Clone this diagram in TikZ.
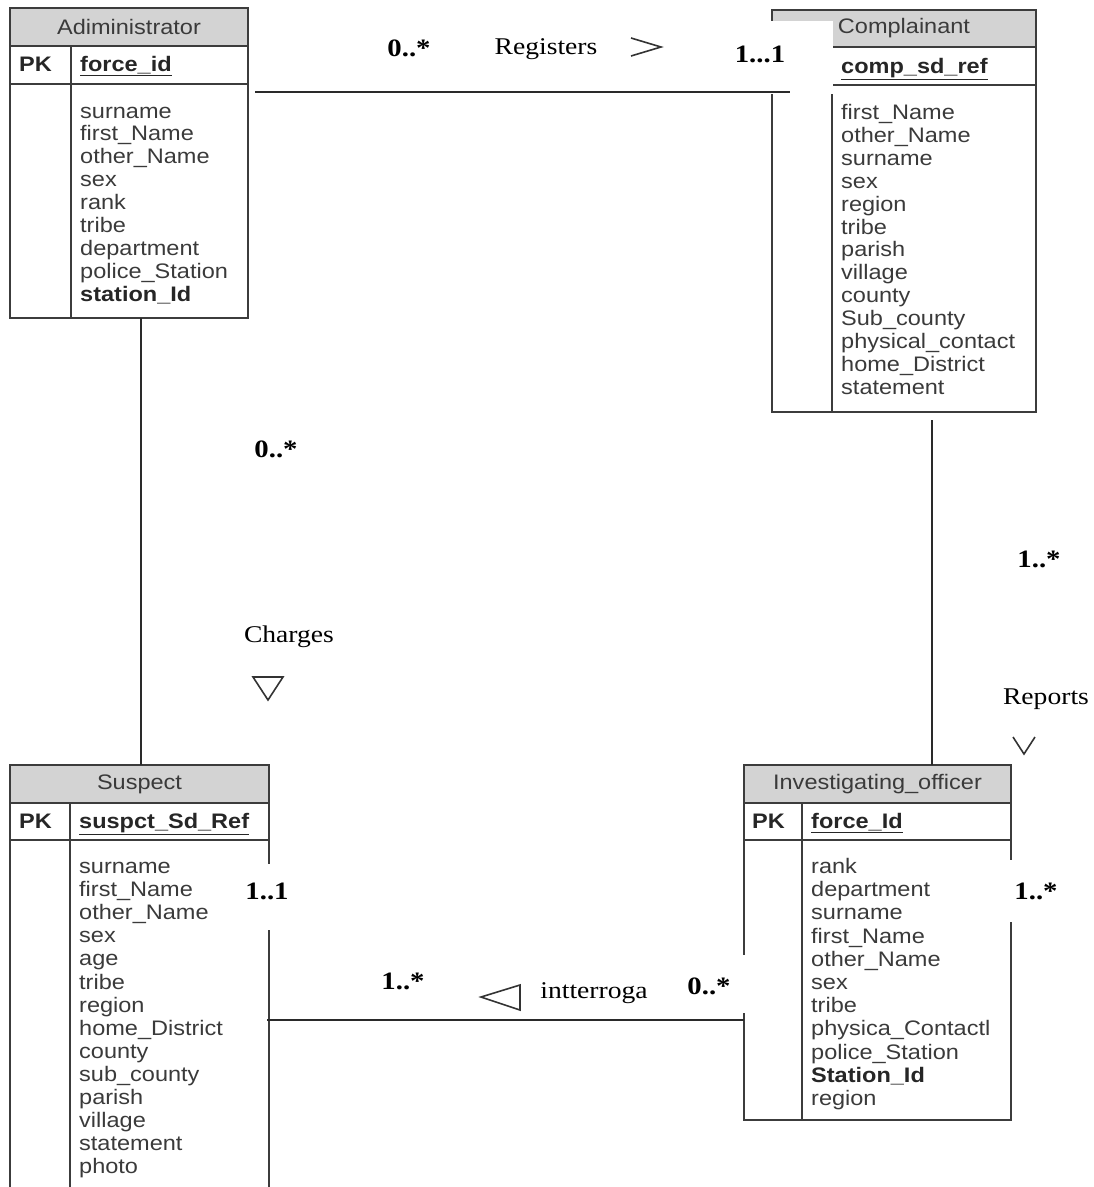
\documentclass[tikz,border=0pt]{standalone}
\usepackage{fontspec}
\newfontfamily\sansf[FakeStretch=1.12]{Liberation Sans}
\newfontfamily\seriff[FakeStretch=1.15]{Liberation Serif}
\definecolor{bordc}{HTML}{3C3C3C}
\definecolor{hdrc}{HTML}{D3D3D3}
\definecolor{txtc}{HTML}{3A3A3A}
\definecolor{linec}{HTML}{2A2A2A}
\definecolor{symc}{HTML}{333333}
\tikzset{
  box/.style={draw=bordc, line width=1.8pt},
  attr/.style={font=\sansf\fontsize{21}{23}\selectfont, text=txtc, inner sep=0pt, anchor=base west},
  keyt/.style={attr, font=\sansf\bfseries\fontsize{21}{23}\selectfont, text=black!85},
  ttl/.style={font=\sansf\fontsize{21}{23}\selectfont, text=txtc, inner sep=0pt},
  lbl/.style={font=\seriff\fontsize{24}{26}\selectfont, text=black, inner sep=0pt},
  mult/.style={font=\seriff\bfseries\fontsize{25}{27}\selectfont, text=black, inner sep=0pt},
  conn/.style={draw=linec, line width=1.8pt},
  sym/.style={draw=symc, line width=1.6pt, line join=miter},
}
\begin{document}
\begin{tikzpicture}[x=1pt,y=-1pt]
\useasboundingbox (0,0) rectangle (1094,1187);

% ---------------- Adiministrator
\draw[box, fill=hdrc] (10,8) rectangle (248,46);
\draw[box] (10,46) rectangle (248,84);
\draw[box] (10,84) rectangle (248,318);
\draw[box] (71,46) -- (71,318);
\node[ttl] (adm-title) at (129,27) {Adiministrator};
\node[keyt] (adm-pk) at (19,71.5) {PK};
\node[keyt] (adm-key) at (80,71.5) {\underline{force\_id}};
\foreach \t [count=\i from 0] in {surname,first\_Name,other\_Name,sex,rank,tribe,department,police\_Station,{\bfseries\color{black!85}station\_Id}}
  \node[attr] (adm-a\i) at (80,{118+22.9*\i}) {\t};
\coordinate (adm-east) at (255,92);
\coordinate (adm-south) at (141,318);

% ---------------- Complainant
\draw[box, fill=hdrc] (772,10) rectangle (1036,47);
\draw[box] (772,47) rectangle (1036,85);
\draw[box] (772,85) rectangle (1036,412);
\draw[box] (832,47) -- (832,412);
\node[ttl] (comp-title) at (904,28) {Complainant};
\node[keyt] (comp-key) at (841,73) {\underline{comp\_sd\_ref}};
\foreach \t [count=\i from 0] in {first\_Name,other\_Name,surname,sex,region,tribe,parish,village,county,Sub\_county,physical\_contact,home\_District,statement}
  \node[attr] (comp-a\i) at (841,{119.5+22.9*\i}) {\t};
\fill[white] (770,21) rectangle (833,94);
\coordinate (comp-west) at (790,92);
\coordinate (comp-south) at (932,420);

% ---------------- Suspect
\draw[box, fill=hdrc] (10,765) rectangle (269,803);
\draw[box] (10,803) rectangle (269,840);
\draw[box] (10,840) -- (10,1190);
\draw[box] (269,840) -- (269,1190);
\draw[box] (70,803) -- (70,1190);
\node[ttl] (sus-title) at (139.5,784) {Suspect};
\node[keyt] (sus-pk) at (19,828.5) {PK};
\node[keyt] (sus-key) at (79,828.5) {\underline{suspct\_Sd\_Ref}};
\foreach \t [count=\i from 0] in {surname,first\_Name,other\_Name,sex,age,tribe,region,home\_District,county,sub\_county,parish,village,statement,photo}
  \node[attr] (sus-a\i) at (79,{873.5+23.1*\i}) {\t};
\fill[white] (240,864) rectangle (296,930);
\coordinate (sus-north) at (141,765);
\coordinate (sus-east) at (267,1020);

% ---------------- Investigating_officer
\draw[box, fill=hdrc] (744,765) rectangle (1011,803);
\draw[box] (744,803) rectangle (1011,840);
\draw[box] (744,840) rectangle (1011,1120);
\draw[box] (802,803) -- (802,1120);
\node[ttl] (inv-title) at (877.5,784) {Investigating\_officer};
\node[keyt] (inv-pk) at (752,828.5) {PK};
\node[keyt] (inv-key) at (811,828.5) {\underline{force\_Id}};
\foreach \t [count=\i from 0] in {rank,department,surname,first\_Name,other\_Name,sex,tribe,physica\_Contactl,police\_Station,{\bfseries\color{black!85}Station\_Id},region}
  \node[attr] (inv-a\i) at (811,{873.5+23.2*\i}) {\t};
\fill[white] (1000,860) rectangle (1066,922);
\fill[white] (680,955) rectangle (750,1013);
\coordinate (inv-north) at (932,765);
\coordinate (inv-west) at (744,1020);

% ---------------- connectors
\draw[conn] (adm-east) -- (comp-west);
\draw[conn] (adm-south) -- (sus-north);
\draw[conn] (comp-south) -- (inv-north);
\draw[conn] (sus-east) -- (inv-west);

% ---------------- labels
\node[mult] (m1) at (409,48) {0..*};
\node[lbl] (reg) at (546,49) {Registers};
\draw[sym] (631,38) -- (661,47) -- (631,56);
\node[mult] (m2) at (760,54) {1...1};

\node[mult] (m3) at (276,449) {0..*};
\node[lbl] (chg) at (289,637) {Charges};
\draw[sym] (253,677) -- (283,677) -- (268,700) -- cycle;

\node[mult] (m4) at (1039,559) {1..*};
\node[lbl] (rep) at (1046,699) {Reports};
\draw[sym] (1013,737) -- (1024,754) -- (1035,737);

\node[mult] (m5) at (267,891) {1..1};
\node[mult] (m6) at (1036,891) {1..*};

\node[mult] (m7) at (403,981) {1..*};
\draw[sym] (481,997) -- (520,985) -- (520,1010) -- cycle;
\node[lbl] (int) at (594,993) {intterroga};
\node[mult] (m8) at (709,986) {0..*};
\end{tikzpicture}
\end{document}
